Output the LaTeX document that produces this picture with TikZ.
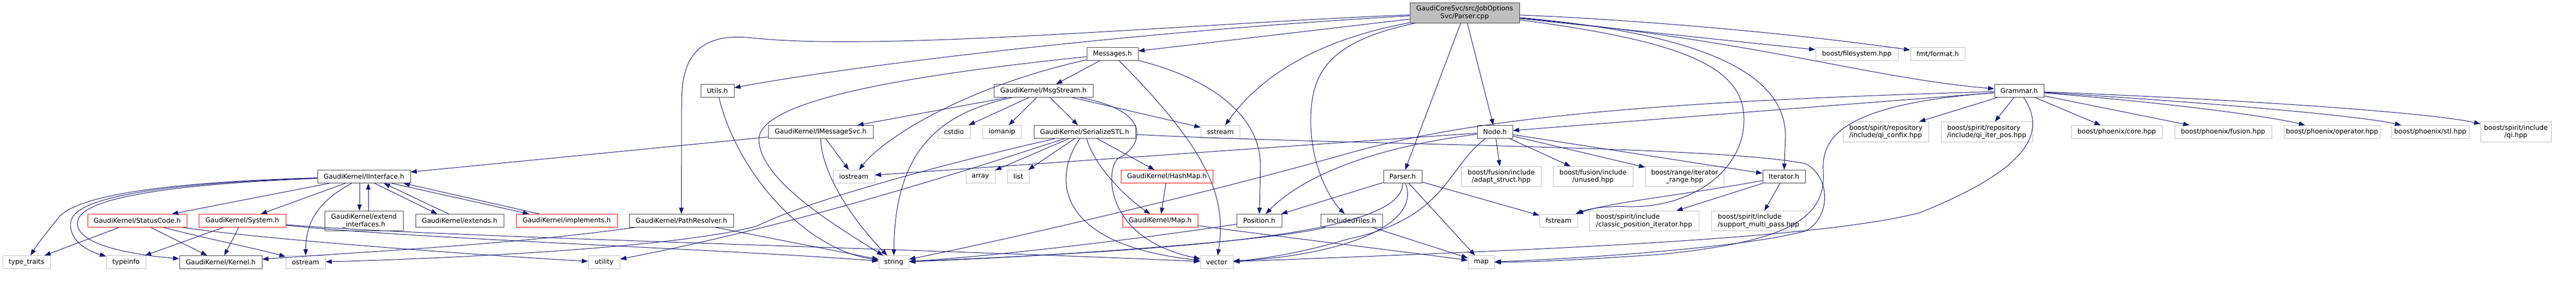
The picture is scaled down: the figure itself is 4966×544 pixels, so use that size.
\documentclass[tikz,border=0pt]{standalone}
\usepackage{fontspec}
\setmainfont{DejaVu Sans}
\usetikzlibrary{arrows.meta}
\newlength\pxu \setlength\pxu{0.75pt}
\definecolor{edgecol}{HTML}{191970}
\definecolor{gline}{HTML}{BFBFBF}
\definecolor{bline}{HTML}{404040}
\definecolor{rootfill}{HTML}{BFBFBF}
\definecolor{rline}{HTML}{FF0000}
\tikzset{
 base/.style={rectangle, inner sep=0pt, font=\fontsize{9.6}{10.9}\selectfont, minimum height=25\pxu, line width=0.75pt, fill=white, align=center},
 nb/.style={base, draw=bline},
 ng/.style={base, draw=gline},
 nr/.style={base, draw=rline},
 nroot/.style={base, draw=bline, fill=rootfill},
 wd/.style={minimum width=#1\pxu},
 tall/.style={minimum height=38.5\pxu},
 edg/.style={draw=edgecol, line width=0.75pt, -{Triangle[length=9pt,width=6.5pt]}}
}
\begin{document}
\begin{tikzpicture}[x=0.75pt,y=-0.75pt]
\useasboundingbox (0,0) rectangle (4966,544);
% row 0
\node[nroot, wd=211, minimum height=39\pxu] (P) at (2823.5,24.5) {GaudiCoreSvc/src/JobOptions\\Svc/Parser.cpp};
% row 1
\node[nb, wd=99] (msg) at (2144.5,104) {Messages.h};
\node[ng, wd=159] (fs) at (3579.5,104) {boost/filesystem.hpp};
\node[ng, wd=105] (fmt) at (3735.5,104) {fmt/format.h};
% row 2
\node[nb, wd=64] (utils) at (1383,175) {Utils.h};
\node[nb, wd=191] (msgs) at (2011.5,175) {GaudiKernel/MsgStream.h};
\node[nb, wd=95] (gram) at (3892.5,175) {Grammar.h};
% row 3
\node[nb, wd=202] (imsg) at (1582,254) {GaudiKernel/IMessageSvc.h};
\node[ng, wd=62] (cstdio) at (1839,254) {cstdio};
\node[ng, wd=75] (iomanip) at (1931.5,254) {iomanip};
\node[nb, wd=196] (ser) at (2091,254) {GaudiKernel/SerializeSTL.h};
\node[ng, wd=75] (sstream) at (2352.5,254) {sstream};
\node[nb, wd=68] (node) at (2882,254) {Node.h};
\node[ng, wd=165, tall, align=left] (confix) at (3635.5,254) {boost/spirit/repository\\/include/qi\_confix.hpp};
\node[ng, wd=176, tall, align=left] (iterpos) at (3830,254) {boost/spirit/repository\\/include/qi\_iter\_pos.hpp};
\node[ng, wd=175] (pcore) at (4080.5,254) {boost/phoenix/core.hpp};
\node[ng, wd=187] (pfus) at (4285.5,254) {boost/phoenix/fusion.hpp};
\node[ng, wd=185] (pop) at (4495.5,254) {boost/phoenix/operator.hpp};
\node[ng, wd=150] (pstl) at (4685,254) {boost/phoenix/stl.hpp};
\node[ng, wd=136, tall] (qi) at (4850,254) {boost/spirit/include\\/qi.hpp};
% row 4
\node[nb, wd=179] (iint) at (701.5,340) {GaudiKernel/IInterface.h};
\node[ng, wd=80] (iostream) at (1646,340) {iostream};
\node[ng, wd=56] (array) at (1890,340) {array};
\node[ng, wd=42] (list) at (1963,340) {list};
\node[nr, wd=177] (hash) at (2249.5,340) {GaudiKernel/HashMap.h};
\node[nb, wd=74] (parserh) at (2704,340) {Parser.h};
\node[ng, wd=154, tall] (adapt) at (2894,340) {boost/fusion/include\\/adapt\_struct.hpp};
\node[ng, wd=154, tall] (unused) at (3071,340) {boost/fusion/include\\/unused.hpp};
\node[ng, wd=151, tall] (irange) at (3247.5,340) {boost/range/iterator\\\_range.hpp};
\node[nb, wd=82] (iter) at (3439,340) {Iterator.h};
% row 5
\node[nr, wd=191] (status) at (264.5,425) {GaudiKernel/StatusCode.h};
\node[nr, wd=168] (system) at (467,425) {GaudiKernel/System.h};
\node[nb, wd=151, tall] (extif) at (701.5,425.5) {GaudiKernel/extend\\\_interfaces.h};
\node[nb, wd=170] (extends) at (886,425) {GaudiKernel/extends.h};
\node[nr, wd=195] (impl) at (1092.5,425) {GaudiKernel/implements.h};
\node[nb, wd=201] (pathres) at (1313.5,425) {GaudiKernel/PathResolver.h};
\node[nr, wd=145] (maph) at (2236.5,425) {GaudiKernel/Map.h};
\node[nb, wd=87] (pos) at (2427.5,425) {Position.h};
\node[nb, wd=119] (incl) at (2605.5,425) {IncludedFiles.h};
\node[ng, wd=73] (fstream) at (3004.5,425) {fstream};
\node[ng, wd=211, tall, align=left] (classic) at (3169.5,425.5) {boost/spirit/include\\/classic\_position\_iterator.hpp};
\node[ng, wd=182, tall, align=left] (multi) at (3390,425.5) {boost/spirit/include\\/support\_multi\_pass.hpp};
% row 6
\node[ng, wd=92] (tt) at (51,505) {type\_traits};
\node[ng, wd=76] (typeinfo) at (243,505) {typeinfo};
\node[nb, wd=159] (kernel) at (425.5,505) {GaudiKernel/Kernel.h};
\node[ng, wd=76] (ostream) at (589,505) {ostream};
\node[ng, wd=61] (utility) at (1164.5,505) {utility};
\node[ng, wd=58] (string) at (1723,505) {string};
\node[ng, wd=63] (vector) at (2345.5,505) {vector};
\node[ng, wd=51] (map) at (2855.5,505) {map};

% ---------- edges ----------
% Parser.cpp
\draw[edg] (P) .. controls (2300,45) and (1700,100) .. (1450,73) .. controls (1330,60) and (1314,130) .. (1314,200) -- (pathres);
\draw[edg] (P) .. controls (2200,60) and (1650,125) .. (utils);
\draw[edg] (P) -- (msg);
\draw[edg] (P) .. controls (2520,80) and (2420,160) .. (sstream);
\draw[edg] (P) .. controls (2560,80) and (2525,140) .. (2527,240) .. controls (2529,330) and (2570,390) .. (incl);
\draw[edg] (P) -- (parserh);
\draw[edg] (P) -- (node);
\draw[edg] (P) .. controls (3200,40) and (3500,70) .. (fmt);
\draw[edg] (P) -- (fs);
\draw[edg] (P) .. controls (3280,65) and (3440,140) .. (3442,260) -- (iter);
\draw[edg] (P) .. controls (3400,80) and (3600,150) .. (gram);
\draw[edg] (P) .. controls (3250,80) and (3362,130) .. (3362,230) .. controls (3362,330) and (3260,400) .. (3140,398) .. controls (3090,396) and (3060,403) .. (fstream);
% Messages.h
\draw[edg] (msg) -- (msgs);
\draw[edg] (msg) .. controls (2330,290) and (2365,380) .. (vector);
\draw[edg] (msg) .. controls (2330,150) and (2430,220) .. (2430,320) -- (pos);
\draw[edg] (msg) .. controls (1850,170) and (1700,270) .. (iostream);
\draw[edg] (msg) .. controls (1700,150) and (1460,200) .. (1463,270) .. controls (1466,350) and (1620,440) .. (string);
% Utils.h
\draw[edg] (utils) .. controls (1420,330) and (1550,480) .. (string);
% PathResolver.h
\draw[edg] (pathres) -- (string);
\draw[edg] (pathres) .. controls (1000,470) and (700,485) .. (kernel);
% IMessageSvc.h
\draw[edg] (imsg) -- (iint);
\draw[edg] (imsg) -- (iostream);
\draw[edg] (imsg) .. controls (1583,330) and (1640,420) .. (string);
% MsgStream.h
\draw[edg] (msgs) -- (imsg);
\draw[edg] (msgs) .. controls (1800,220) and (1725,300) .. (string);
\draw[edg] (msgs) -- (cstdio);
\draw[edg] (msgs) -- (iomanip);
\draw[edg] (msgs) -- (ser);
\draw[edg] (msgs) -- (sstream);
\draw[edg] (msgs) .. controls (2230,215) and (2200,285) .. (2155,305) .. controls (2130,330) and (2130,460) .. (vector);
% SerializeSTL.h
\draw[edg] (ser) -- (hash);
\draw[edg] (ser) .. controls (2110,320) and (2170,380) .. (maph);
\draw[edg] (ser) .. controls (2030,340) and (2030,470) .. (vector);
\draw[edg] (ser) -- (array);
\draw[edg] (ser) -- (list);
\draw[edg] (ser) .. controls (1800,350) and (1500,440) .. (utility);
\draw[edg] (ser) .. controls (1800,320) and (1550,390) .. (1460,435) .. controls (1300,480) and (800,500) .. (ostream);
\draw[edg] (ser) .. controls (2600,280) and (3300,280) .. (3480,315) .. controls (3530,340) and (3530,420) .. (3480,445) .. controls (3350,480) and (3000,500) .. (map);
% HashMap / Map
\draw[edg] (hash) -- (maph);
\draw[edg] (maph) .. controls (2500,460) and (2750,490) .. (map);
% Position.h
\draw[edg] (pos) .. controls (2200,460) and (1900,495) .. (string);
% IncludedFiles.h
\draw[edg] (incl) .. controls (2450,465) and (2000,495) .. (string);
\draw[edg] (incl) -- (map);
% Parser.h
\draw[edg] (parserh) -- (pos);
\draw[edg] (parserh) .. controls (2705,450) and (2300,480) .. (string);
\draw[edg] (parserh) .. controls (2740,430) and (2600,490) .. (vector);
\draw[edg] (parserh) -- (map);
\draw[edg] (parserh) -- (fstream);
% Node.h
\draw[edg] (node) -- (iostream);
\draw[edg] (node) .. controls (2600,290) and (2490,360) .. (pos);
\draw[edg] (node) .. controls (2790,320) and (2790,420) .. (2600,460) .. controls (2500,490) and (2420,500) .. (vector);
\draw[edg] (node) -- (adapt);
\draw[edg] (node) -- (unused);
\draw[edg] (node) -- (irange);
\draw[edg] (node) -- (iter);
% Grammar.h
\draw[edg] (gram) .. controls (3200,195) and (2850,225) .. (2600,295) .. controls (2300,380) and (1900,470) .. (string);
\draw[edg] (gram) -- (node);
\draw[edg] (gram) .. controls (3560,200) and (3510,260) .. (3515,330) .. controls (3520,420) and (3450,465) .. (3200,490) .. controls (3050,500) and (2950,505) .. (map);
\draw[edg] (gram) .. controls (3950,260) and (3900,330) .. (3700,410) .. controls (3500,460) and (3000,480) .. (vector);
\draw[edg] (gram) -- (confix);
\draw[edg] (gram) -- (iterpos);
\draw[edg] (gram) -- (pcore);
\draw[edg] (gram) -- (pfus);
\draw[edg] (gram) .. controls (4200,200) and (4380,225) .. (pop);
\draw[edg] (gram) .. controls (4300,200) and (4560,225) .. (pstl);
\draw[edg] (gram) .. controls (4400,195) and (4700,220) .. (qi);
% Iterator.h
\draw[edg] (iter) -- (multi);
\draw[edg] (iter) -- (classic);
\draw[edg] (iter) .. controls (3250,375) and (3100,390) .. (fstream);
% IInterface.h
\draw[edg] (iint) -- (status);
\draw[edg] (iint) -- (system);
\draw[edg] (iint) .. controls (610,390) and (590,430) .. (ostream);
\draw[edg] ([xshift=-8.5\pxu]iint.south) -- ([xshift=-8.5\pxu]extif.north);
\draw[edg] ([xshift=8.5\pxu]extif.north) -- ([xshift=8.5\pxu]iint.south);
\draw[edg] ([xshift=20.5\pxu]iint.south) -- ([xshift=-43\pxu]extends.north);
\draw[edg] ([xshift=-21\pxu]extends.north) -- ([xshift=38.5\pxu]iint.south);
\draw[edg] ([xshift=53.5\pxu]iint.south) -- ([xshift=-72.5\pxu]impl.north);
\draw[edg] ([xshift=-52.5\pxu]impl.north) -- ([xshift=76.5\pxu]iint.south);
\draw[edg] (iint) .. controls (350,350) and (150,372) .. (112,420) .. controls (92,445) and (72,470) .. (tt);
\draw[edg] (iint) .. controls (350,352) and (150,374) .. (137,425) .. controls (130,460) and (165,482) .. (typeinfo);
\draw[edg] (iint) .. controls (350,354) and (160,378) .. (150,425) .. controls (140,470) and (250,490) .. (kernel);
% StatusCode.h
\draw[edg] (status) -- (tt);
\draw[edg] (status) -- (kernel);
\draw[edg] (status) .. controls (400,460) and (500,480) .. (ostream);
\draw[edg] (status) .. controls (500,460) and (900,490) .. (utility);
% System.h
\draw[edg] (system) -- (typeinfo);
\draw[edg] (system) -- (kernel);
\draw[edg] (system) .. controls (800,460) and (1400,480) .. (string);
\draw[edg] (system) .. controls (800,455) and (1800,480) .. (vector);
\end{tikzpicture}
\end{document}
